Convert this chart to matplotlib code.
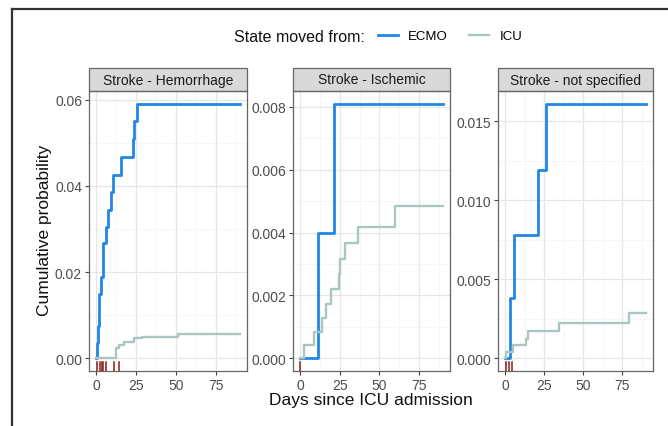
import numpy as np
import matplotlib
matplotlib.use('Agg')
from matplotlib import pyplot as plt
from matplotlib.lines import Line2D
from matplotlib.patches import Rectangle
from matplotlib.ticker import MultipleLocator

plt.rcParams['font.family'] = ['Liberation Sans', 'DejaVu Sans']

panels = ['Stroke - Hemorrhage', 'Stroke - Ischemic', 'Stroke - not specified']

# ECMO curves (step times in days, cumulative probability)
ecmo_t = [
    [0, 0.3, 0.9, 1.7, 2.8, 4.4, 6.1, 7.6, 9.1, 10.8, 15.5, 23.1, 24.0, 25.4, 90],
    [0, 11.0, 21.3, 90],
    [0, 3.2, 5.9, 21.2, 26.1, 90],
]
ecmo_p = [
    [0, 0.0036, 0.0075, 0.0149, 0.0188, 0.0267, 0.0305, 0.0345, 0.0385, 0.0426,
     0.0467, 0.0508, 0.0550, 0.0591, 0.0591],
    [0, 0.00398, 0.0081, 0.0081],
    [0, 0.00384, 0.0078, 0.01188, 0.0161, 0.0161],
]

# ICU curves
icu_t = [
    [0, 12.3, 14.5, 17.5, 23.5, 29.0, 51.5, 90],
    [0, 2.4, 8.6, 13.6, 16.4, 19.4, 24.4, 25.4, 28.2, 36.6, 60.1, 90],
    [0, 0.8, 4.8, 13.2, 14.7, 34.7, 79.4, 90],
]
icu_p = [
    [0, 0.0025, 0.0031, 0.0038, 0.0046, 0.0050, 0.0057, 0.0057],
    [0, 0.00041, 0.00084, 0.00129, 0.00174, 0.00222, 0.00267, 0.00317, 0.00368,
     0.00418, 0.00484, 0.00484],
    [0, 0.0004, 0.00082, 0.00124, 0.00173, 0.0022, 0.00289, 0.00289],
]

# rug marks
rug_t = [
    [0.8, 2.2, 3.4, 4.5, 6.1, 11.2, 14.3],
    [0.0],
    [0.6, 2.3, 4.2],
]

y_major = [0.02, 0.002, 0.005]
y_fmt = ['{:.2f}', '{:.3f}', '{:.3f}']

blue = '#2187e6'
icu_col = '#a9c6c2'
rug_col = '#8b1a1a'

W, H = 668, 427
fig = plt.figure(figsize=(W / 100, H / 100), dpi=100)

lefts = [89, 293, 498]
widths = [158, 157, 155]
top, bottom = 92, 372
strip_h = 23

for i in range(3):
    ax = fig.add_axes([lefts[i] / W, 1 - bottom / H, widths[i] / W, (bottom - top) / H])
    ax.set_facecolor('white')
    ymax = max(max(ecmo_p[i]), max(icu_p[i]))
    ax.set_ylim(-0.05 * ymax, 1.05 * ymax)
    ax.set_xlim(-4.5, 94.5)

    ax.xaxis.set_major_locator(MultipleLocator(25))
    ax.xaxis.set_minor_locator(MultipleLocator(12.5))
    ax.yaxis.set_major_locator(MultipleLocator(y_major[i]))
    ax.yaxis.set_minor_locator(MultipleLocator(y_major[i] / 2))
    ax.grid(which='major', color='#e6e6e6', lw=0.9)
    ax.grid(which='minor', color='#f3f3f3', lw=0.5)
    ax.set_axisbelow(True)

    ax.step(ecmo_t[i], ecmo_p[i], where='post', color=blue, lw=2.0, zorder=3)
    ax.step(icu_t[i], icu_p[i], where='post', color=icu_col, lw=1.7, zorder=4)

    for t in rug_t[i]:
        ax.plot([t, t], [0, 0.032], color=rug_col, lw=1.1,
                transform=ax.get_xaxis_transform(), zorder=5)

    ax.yaxis.set_major_formatter(plt.FuncFormatter(lambda v, p, f=y_fmt[i]: f.format(v)))
    ax.tick_params(which='major', length=3, width=0.8, color='#444444',
                   labelsize=10, labelcolor='#4d4d4d', pad=2)
    ax.tick_params(which='minor', length=0)
    for s in ax.spines.values():
        s.set_color('#666666')
        s.set_linewidth(0.9)

    ax.add_patch(Rectangle((0, 1), 1, strip_h / (bottom - top), transform=ax.transAxes,
                           facecolor='#d9d9d9', edgecolor='#666666', lw=0.9, clip_on=False))
    ax.text(0.5, 1 + strip_h / (bottom - top) / 2, panels[i], transform=ax.transAxes,
            ha='center', va='center', fontsize=10, color='#1a1a1a')

fig.text(45 / W, 1 - 230 / H, 'Cumulative probability', rotation=90,
         ha='center', va='center', fontsize=12.5, color='#111111')
fig.text(371 / W, 1 - 401 / H, 'Days since ICU admission',
         ha='center', va='center', fontsize=12.5, color='#111111')

# legend
fig.text(365 / W, 1 - 37 / H, 'State moved from:', ha='right', va='center',
         fontsize=11.5, color='#111111')
handles = [Line2D([], [], color=blue, lw=2.0), Line2D([], [], color=icu_col, lw=1.7)]
fig.legend(handles, ['ECMO', 'ICU'], loc='center left', ncol=2,
           bbox_to_anchor=(378 / W, 1 - 37 / H), frameon=False, fontsize=9.5,
           handlelength=1.5, handletextpad=0.8, columnspacing=1.6, borderpad=0,
           borderaxespad=0)

# outer frame (cropped)
fig.add_artist(Line2D([12 / W, 12 / W], [0, 1 - 10 / H], color='#333333', lw=1.6))
fig.add_artist(Line2D([12 / W, 1], [1 - 10 / H, 1 - 10 / H], color='#333333', lw=1.6))

fig.savefig('out.png', dpi=100)
